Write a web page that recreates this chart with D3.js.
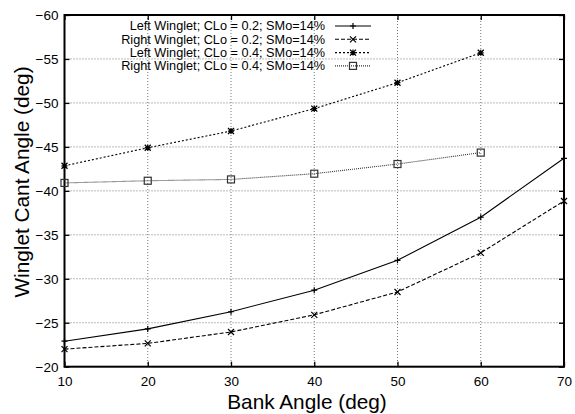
<!DOCTYPE html>
<html>
<head>
<meta charset="utf-8">
<script src="https://cdn.jsdelivr.net/npm/d3@7"></script>
<style>
  html, body { margin: 0; padding: 0; background: #fff; }
  svg { display: block; font-family: "Liberation Sans", Arial, Helvetica, sans-serif; }
</style>
</head>
<body>
<svg id="chart" width="575" height="414"></svg>
<script>
// Bank angle (deg) at which each configuration was evaluated
const bankAngles = [10, 20, 30, 40, 50, 60, 70];

// Winglet cant angle (deg) for each configuration
const leftCL02  = [-22.9, -24.3, -26.25, -28.7, -32.1, -37.0, -43.7];
const rightCL02 = [-22.0, -22.65, -23.95, -25.9, -28.5, -32.95, -38.85];
const leftCL04  = [-42.85, -44.9, -46.8, -49.35, -52.3, -55.7];
const rightCL04 = [-40.9, -41.15, -41.3, -41.95, -43.05, -44.35];

const seriesNames = [
  "Left Winglet; CLo = 0.2; SMo=14%",
  "Right Winglet; CLo = 0.2; SMo=14%",
  "Left Winglet; CLo = 0.4; SMo=14%",
  "Right Winglet; CLo = 0.4; SMo=14%"
];

const xTicks = [10, 20, 30, 40, 50, 60, 70];
const yTicks = [-20, -25, -30, -35, -40, -45, -50, -55, -60];

const seriesStyles = [
  { dash: null,  color: "#000", marker: "plus" },
  { dash: "4,2", color: "#000", marker: "cross" },
  { dash: "2,2", color: "#000", marker: "star" },
  { dash: "1,1", color: "#333", marker: "square" }
];
const seriesValues = [leftCL02, rightCL02, leftCL04, rightCL04];

const svg = d3.select("#chart");
const m = { left: 64.5, right: 564, top: 15, bottom: 366.7 };

const x = d3.scaleLinear().domain([10, 70]).range([m.left, m.right]);
const y = d3.scaleLinear().domain([-20, -60]).range([m.bottom, m.top]);

// Dotted grid
const grid = svg.append("g").attr("stroke", "#777").attr("stroke-width", 1)
  .attr("stroke-dasharray", "1,2");
xTicks.slice(1, -1).forEach(t => {
  grid.append("line").attr("x1", x(t)).attr("x2", x(t))
    .attr("y1", m.top).attr("y2", m.bottom);
});
yTicks.slice(1, -1).forEach(t => {
  grid.append("line").attr("x1", m.left).attr("x2", m.right)
    .attr("y1", y(t)).attr("y2", y(t));
});

// Axes with inward ticks on all four sides
const tickLen = 5;
const fmt = d3.format("d");
svg.append("g").attr("transform", `translate(0,${m.bottom})`)
  .call(d3.axisBottom(x).tickValues(xTicks).tickSize(-tickLen).tickPadding(10).tickFormat(fmt));
svg.append("g").attr("transform", `translate(0,${m.top})`)
  .call(d3.axisTop(x).tickValues(xTicks).tickSize(-tickLen).tickFormat(""));
svg.append("g").attr("transform", `translate(${m.left},0)`)
  .call(d3.axisLeft(y).tickValues(yTicks).tickSize(-tickLen).tickPadding(6).tickFormat(fmt));
svg.append("g").attr("transform", `translate(${m.right},0)`)
  .call(d3.axisRight(y).tickValues(yTicks).tickSize(-tickLen).tickFormat(""));

svg.selectAll(".domain").remove();
svg.selectAll(".tick line").attr("stroke", "#000").attr("stroke-width", 1.3);
svg.selectAll(".tick text").attr("font-size", "13.5px").attr("fill", "#000")
  .attr("font-family", "'Liberation Sans', Arial, sans-serif");

// Plot frame
svg.append("rect").attr("x", m.left).attr("y", m.top)
  .attr("width", m.right - m.left).attr("height", m.bottom - m.top)
  .attr("fill", "none").attr("stroke", "#000").attr("stroke-width", 2);

// Marker shapes
function drawMarker(g, type, cx, cy, color) {
  const s = 3;
  if (type === "plus") {
    g.append("path").attr("d", `M${cx - s},${cy}H${cx + s}M${cx},${cy - s}V${cy + s}`)
      .attr("stroke", color).attr("stroke-width", 1.2).attr("fill", "none");
  } else if (type === "cross") {
    g.append("path").attr("d", `M${cx - s},${cy - s}L${cx + s},${cy + s}M${cx - s},${cy + s}L${cx + s},${cy - s}`)
      .attr("stroke", color).attr("stroke-width", 1.2).attr("fill", "none");
  } else if (type === "star") {
    g.append("path").attr("d",
      `M${cx - s},${cy}H${cx + s}M${cx},${cy - s}V${cy + s}M${cx - s},${cy - s}L${cx + s},${cy + s}M${cx - s},${cy + s}L${cx + s},${cy - s}`)
      .attr("stroke", color).attr("stroke-width", 1.3).attr("fill", "none");
  } else if (type === "square") {
    g.append("rect").attr("x", cx - 3.5).attr("y", cy - 3.5).attr("width", 7).attr("height", 7)
      .attr("stroke", color).attr("stroke-width", 1.2).attr("fill", "none");
  }
}

// Series lines and markers
const line = d3.line().x(d => x(d[0])).y(d => y(d[1]));
seriesValues.forEach((vals, i) => {
  const st = seriesStyles[i];
  const pts = vals.map((v, j) => [bankAngles[j], v]);
  const g = svg.append("g");
  g.append("path").datum(pts).attr("d", line)
    .attr("fill", "none").attr("stroke", st.color).attr("stroke-width", 1.1)
    .attr("stroke-dasharray", st.dash);
  pts.forEach(p => drawMarker(g, st.marker, x(p[0]), y(p[1]), st.color));
});

// Legend
const legend = svg.append("g");
const legRowY = [26, 39.3, 52.6, 65.9];
seriesNames.forEach((name, i) => {
  const st = seriesStyles[i];
  const ly = legRowY[i];
  legend.append("text").attr("x", 325).attr("y", ly).attr("dy", "0.35em")
    .attr("text-anchor", "end").attr("font-size", "12.7px").attr("fill", "#000").text(name);
  legend.append("line").attr("x1", 335).attr("x2", 371).attr("y1", ly).attr("y2", ly)
    .attr("stroke", st.color).attr("stroke-width", 1.1).attr("stroke-dasharray", st.dash);
  drawMarker(legend, st.marker, 353, ly, st.color);
});

// Axis titles
svg.append("text").attr("x", 307).attr("y", 409)
  .attr("text-anchor", "middle").attr("font-size", "20.8px").attr("fill", "#000")
  .text("Bank Angle (deg)");
svg.append("text")
  .attr("transform", "translate(29,182) rotate(-90)")
  .attr("text-anchor", "middle").attr("font-size", "20.8px").attr("fill", "#000")
  .text("Winglet Cant Angle (deg)");
</script>
</body>
</html>
